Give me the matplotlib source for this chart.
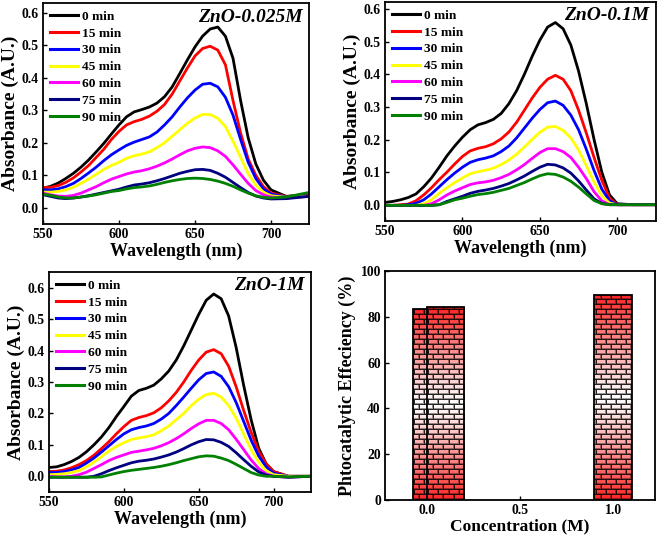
import numpy as np
import matplotlib
matplotlib.use('Agg')
import matplotlib.pyplot as plt
from matplotlib.colors import to_rgb

plt.rcParams['font.family'] = ['Liberation Serif', 'DejaVu Serif']
plt.rcParams['font.weight'] = 'bold'
plt.rcParams['axes.labelweight'] = 'bold'

# ---------------- data ----------------
wavelength = list(range(550, 701, 5)) + [710, 725]
time_labels = ['0 min', '15 min', '30 min', '45 min', '60 min', '75 min', '90 min']
line_colors = ['#000000', '#ff0000', '#0000ff', '#ffff00', '#ff00ff', '#000080', '#008000']

# ZnO-0.025M
a025_t0 = [.060,.066,.076,.090,.106,.125,.147,.172,.198,.227,.255,.280,.295,.302,.310,.322,.342,.372,.413,.455,.495,.528,.550,.556,.528,.460,.330,.215,.135,.085,.055,.035,.040]
a025_t15 = [.062,.063,.068,.078,.092,.110,.130,.155,.180,.210,.235,.255,.265,.272,.282,.297,.318,.350,.390,.430,.467,.490,.497,.485,.440,.330,.230,.150,.100,.065,.045,.035,.038]
a025_t30 = [.055,.055,.058,.065,.075,.090,.107,.125,.145,.163,.178,.192,.202,.210,.218,.233,.255,.280,.310,.338,.362,.380,.383,.372,.340,.285,.210,.140,.090,.058,.042,.033,.036]
a025_t45 = [.048,.048,.050,.055,.063,.075,.088,.103,.118,.130,.140,.152,.160,.165,.172,.185,.200,.220,.240,.260,.276,.287,.287,.275,.250,.205,.155,.105,.070,.048,.037,.032,.035]
a025_t60 = [.045,.040,.036,.035,.038,.045,.055,.065,.077,.088,.096,.104,.110,.114,.120,.128,.138,.150,.163,.175,.183,.187,.185,.175,.158,.132,.103,.075,.053,.040,.033,.030,.035]
a025_t75 = [.040,.035,.030,.028,.030,.033,.037,.042,.047,.052,.057,.064,.070,.073,.077,.083,.090,.098,.106,.112,.117,.118,.115,.106,.094,.078,.062,.047,.036,.030,.027,.028,.035]
a025_t90 = [.042,.038,.033,.030,.030,.033,.036,.040,.045,.050,.053,.058,.062,.064,.067,.072,.078,.083,.087,.090,.091,.090,.087,.082,.075,.066,.055,.045,.037,.032,.030,.033,.047]

# ZnO-0.1M
a01_t0 = [.007,.010,.015,.022,.033,.055,.082,.115,.150,.180,.207,.230,.245,.252,.262,.280,.310,.350,.400,.455,.505,.545,.559,.540,.490,.410,.310,.200,.100,.030,.003,.000,.000]
a01_t15 = [-.002,-.002,.000,.002,.012,.030,.052,.077,.100,.125,.148,.165,.173,.178,.187,.202,.223,.253,.290,.327,.360,.385,.397,.385,.350,.290,.220,.145,.075,.020,.000,.000,.000]
a01_t30 = [-.002,-.002,-.002,.000,.004,.015,.033,.055,.077,.097,.115,.130,.138,.143,.150,.163,.180,.205,.235,.265,.292,.313,.318,.305,.275,.230,.170,.105,.048,.012,.000,.000,.000]
a01_t45 = [-.002,-.002,-.002,-.002,-.002,.003,.015,.035,.052,.068,.082,.095,.101,.106,.112,.123,.137,.155,.177,.200,.222,.238,.240,.228,.205,.168,.120,.070,.027,.005,.000,.000,.000]
a01_t60 = [-.002,-.002,-.002,-.002,-.002,-.002,.003,.015,.030,.042,.052,.062,.067,.070,.075,.083,.093,.107,.123,.142,.160,.172,.172,.163,.145,.115,.080,.040,.012,.000,.000,.000,.000]
a01_t75 = [-.002,-.002,-.002,-.002,-.002,-.002,-.002,.000,.010,.018,.026,.035,.041,.045,.050,.057,.065,.076,.088,.102,.115,.124,.122,.113,.097,.073,.045,.018,.004,.000,.000,.000,.000]
a01_t90 = [-.002,-.002,-.002,-.002,-.002,-.002,-.002,.000,.007,.015,.020,.026,.031,.034,.038,.044,.050,.059,.068,.079,.089,.095,.093,.085,.072,.054,.033,.013,.003,.000,.000,.000,.000]

# ZnO-1M
a1_t0 = [.028,.030,.037,.047,.060,.078,.100,.125,.155,.190,.222,.255,.273,.280,.290,.310,.335,.370,.415,.465,.515,.560,.580,.565,.510,.410,.290,.180,.090,.040,.015,.000,.000]
a1_t15 = [.015,.016,.020,.027,.037,.050,.067,.088,.110,.135,.158,.178,.187,.193,.202,.218,.240,.267,.300,.337,.370,.395,.403,.390,.350,.285,.210,.140,.080,.040,.015,.000,.000]
a1_t30 = [.012,.012,.015,.020,.028,.042,.058,.077,.097,.117,.135,.148,.155,.160,.168,.182,.200,.225,.252,.280,.307,.327,.332,.318,.285,.235,.175,.115,.065,.030,.010,.000,.000]
a1_t45 = [.005,.006,.008,.012,.018,.030,.045,.062,.080,.095,.107,.117,.122,.126,.132,.145,.160,.180,.200,.225,.245,.260,.264,.252,.225,.185,.135,.085,.045,.018,.005,.000,.000]
a1_t60 = [.000,-.002,-.002,.000,.005,.013,.025,.037,.050,.060,.068,.076,.080,.084,.089,.097,.107,.120,.135,.152,.167,.178,.178,.168,.148,.118,.085,.052,.025,.008,.000,-.003,.000]
a1_t75 = [-.003,-.003,-.003,-.003,-.003,-.003,.000,.008,.018,.027,.035,.043,.048,.051,.055,.061,.068,.077,.088,.100,.110,.117,.116,.108,.095,.075,.053,.032,.014,.004,.000,-.003,.000]
a1_t90 = [-.003,-.003,-.003,-.003,-.003,-.003,-.003,-.002,.004,.010,.015,.019,.022,.025,.028,.032,.037,.043,.050,.056,.062,.065,.064,.058,.050,.038,.025,.012,.004,.000,.000,-.002,.000]

panel_titles = ['ZnO-0.025M', 'ZnO-0.1M', 'ZnO-1M']
panel_series = [
    [a025_t0, a025_t15, a025_t30, a025_t45, a025_t60, a025_t75, a025_t90],
    [a01_t0, a01_t15, a01_t30, a01_t45, a01_t60, a01_t75, a01_t90],
    [a1_t0, a1_t15, a1_t30, a1_t45, a1_t60, a1_t75, a1_t90],
]
panel_ylim_top = [0.63, 0.622, 0.65]

concentration = [0.025, 0.1, 1.0]
efficiency = [83.2, 84.1, 89.5]

# ---------------- figure ----------------
W, H = 661, 539
fig = plt.figure(figsize=(W / 100, H / 100), dpi=100)

def px_axes(l, t, r, b):
    return fig.add_axes([l / W, 1 - b / H, (r - l) / W, (b - t) / H])

ax1 = px_axes(43, 3, 309, 224)
ax2 = px_axes(385, 2, 656, 221)
ax3 = px_axes(49, 272, 311, 492)
ax4 = px_axes(385, 271, 655, 500)

for ax, title, series, ytop in zip([ax1, ax2, ax3], panel_titles, panel_series, panel_ylim_top):
    for s, lab, c in zip(series, time_labels, line_colors):
        ax.plot(wavelength, s, color=c, lw=2.0, label=lab, solid_joinstyle='round')
    ax.set_xlim(550, 725)
    ax.set_ylim(-0.05, ytop)
    ax.set_xticks([550, 600, 650, 700])
    ax.set_yticks([0.0, 0.1, 0.2, 0.3, 0.4, 0.5, 0.6])
    ax.yaxis.set_major_formatter(matplotlib.ticker.FormatStrFormatter('%.1f'))
    ax.tick_params(direction='in', length=3, width=1, labelsize=9.8, pad=3)
    for sp in ax.spines.values():
        sp.set_linewidth(1.3)
    ax.set_xlabel('Wavelength (nm)', fontsize=13, labelpad=1)
    ax.set_ylabel('Absorbance (A.U.)', fontsize=14, labelpad=2)
    ax.text(0.975, 0.975, title, transform=ax.transAxes, ha='right', va='top',
            fontsize=14, fontweight='bold', fontstyle='italic')
    leg = ax.legend(loc='upper left', frameon=False, fontsize=9.6, handlelength=2.1,
                    handletextpad=0.3, labelspacing=0.34, borderaxespad=0.25,
                    borderpad=0.3)
    for lh in leg.get_lines():
        lh.set_linewidth(2.2)

# ---------------- bar panel ----------------
def brick_texture(nx, ny, bar_h_px):
    # pixel-exact brick texture (decoration only), gradient red-white-red
    xs = np.arange(nx)
    ys = np.arange(ny)
    X, Y = np.meshgrid(xs, ys)
    row_h, brick_w = 5, 10
    row = Y // row_h
    shade = np.ones_like(X, dtype=float)
    shade = np.where((Y % row_h) == 1, 0.6, shade)
    shade = np.where(((X + 4 + (row % 2) * (brick_w // 2)) % brick_w) == 0, 0.6, shade)
    shade = np.where(((X + 3 + (row % 2) * (brick_w // 2)) % brick_w) == 0, 0.15, shade)
    shade = np.where((Y % row_h) == 0, 0.15, shade)
    t = np.clip(np.abs(2 * (Y + 0.5) / bar_h_px - 1.0), 0, 1)
    red = np.array(to_rgb('#ff2424'))
    white = np.array([1.0, 1.0, 1.0])
    base = white[None, None, :] + (red - white)[None, None, :] * (t[..., None] ** 1.1)
    img = base * shade[..., None]
    return img

ax4.set_xlim(-0.225, 1.225)
ax4.set_ylim(0, 100)
bars = ax4.bar(concentration, efficiency, width=0.2, facecolor='none',
               edgecolor='black', linewidth=1.3)
fig.canvas.draw()
inv = ax4.transData.inverted()
for i, b in enumerate(bars):
    x0, w, h = b.get_x(), b.get_width(), b.get_height()
    (dx0, dy0), (dx1, dy1) = ax4.transData.transform([[x0, 0], [x0 + w, h]])
    px0, py0 = np.floor(dx0), np.floor(dy0)
    px1, py1 = np.ceil(dx1), np.ceil(dy1)
    nx, ny = int(px1 - px0), int(py1 - py0)
    img = brick_texture(nx, ny, dy1 - dy0)
    (ex0, ey0), (ex1, ey1) = inv.transform([[px0, py0], [px1, py1]])
    im = ax4.imshow(img, extent=(ex0, ex1, ey0, ey1), origin='lower', aspect='auto',
                    interpolation='nearest', zorder=2 + 2 * i)
    im.set_clip_path(b)
    b.set_zorder(3 + 2 * i)
ax4.set_xlim(-0.225, 1.225)
ax4.set_ylim(0, 100)
ax4.set_aspect('auto')
ax4.set_xticks([0.0, 0.5, 1.0])
ax4.set_yticks([0, 20, 40, 60, 80, 100])
ax4.xaxis.set_major_formatter(matplotlib.ticker.FormatStrFormatter('%.1f'))
ax4.tick_params(direction='in', length=3, width=1, labelsize=9.8, pad=3)
for sp in ax4.spines.values():
    sp.set_linewidth(1.3)
    sp.set_zorder(10)
ax4.set_xlabel('Concentration (M)', fontsize=12.5, labelpad=1)
ax4.set_ylabel('Phtocatalytic Effeciency (%)', fontsize=13, labelpad=3)

fig.savefig('out.png', dpi=100)
